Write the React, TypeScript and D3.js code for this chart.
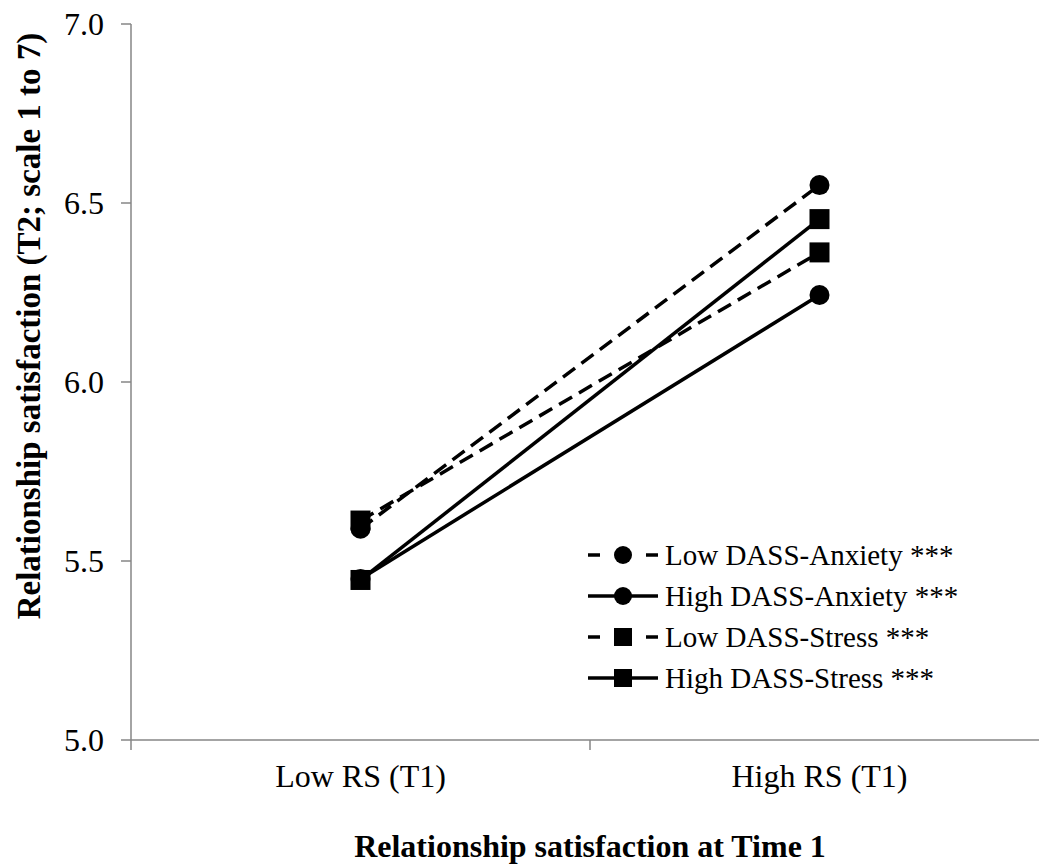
import React from "react";
import * as d3 from "d3";

// categories on the x axis
const categories = ["Low RS (T1)", "High RS (T1)"];

// series values (T2 relationship satisfaction)
const lowAnxiety = [5.59, 6.55];
const highAnxiety = [5.45, 6.243];
const lowStress = [5.613, 6.362];
const highStress = [5.447, 6.455];

const seriesNames = [
  "Low DASS-Anxiety ***",
  "High DASS-Anxiety ***",
  "Low DASS-Stress ***",
  "High DASS-Stress ***",
];

const yTicks = [5.0, 5.5, 6.0, 6.5, 7.0];

const W = 1039;
const H = 867;
const FONT = '"Liberation Serif", "Times New Roman", Times, "DejaVu Serif", serif';

const series = [
  { name: seriesNames[0], values: lowAnxiety, dashed: true, marker: "circle" },
  { name: seriesNames[1], values: highAnxiety, dashed: false, marker: "circle" },
  { name: seriesNames[2], values: lowStress, dashed: true, marker: "square" },
  { name: seriesNames[3], values: highStress, dashed: false, marker: "square" },
];

const Marker = ({ type, x, y, size }: { type: string; x: number; y: number; size: number }) =>
  type === "circle" ? (
    <circle cx={x} cy={y} r={size / 2} fill="#000" />
  ) : (
    <rect x={x - size / 2} y={y - size / 2} width={size} height={size} fill="#000" />
  );

export default function App() {
  const left = 131;
  const right = 1049;
  const xScale = d3.scaleBand().domain(categories).range([left, right]);
  const yScale = d3.scaleLinear().domain([5, 7]).range([740, 24]);
  const xc = (c: string) => (xScale(c) ?? 0) + xScale.bandwidth() / 2;

  const line = d3
    .line<number>()
    .x((_, i) => xc(categories[i]))
    .y((d) => yScale(d));

  const axisColor = "#868686";
  const legendX = 588;
  const legendY = 555;
  const legendStep = 41;
  const txt = { fontFamily: FONT, fill: "#000" };

  return (
    <svg
      width={W}
      height={H}
      style={{ position: "absolute", left: 0, top: 0, background: "#fff", fontFamily: FONT }}
    >
      {/* y axis */}
      <line x1={left} x2={left} y1={yScale(7)} y2={yScale(5)} stroke={axisColor} strokeWidth={1.5} />
      {yTicks.map((t) => (
        <g key={t}>
          <line x1={left - 10} x2={left} y1={yScale(t)} y2={yScale(t)} stroke={axisColor} strokeWidth={1.5} />
          <text x={104} y={yScale(t)} dy="0.35em" textAnchor="end" fontSize={32} style={txt}>
            {t.toFixed(1)}
          </text>
        </g>
      ))}

      {/* x axis */}
      <line x1={left} x2={W} y1={yScale(5)} y2={yScale(5)} stroke={axisColor} strokeWidth={1.5} />
      {[left, ...categories.map((c) => (xScale(c) ?? 0) + xScale.bandwidth())].map((x, i) => (
        <line key={i} x1={x} x2={x} y1={yScale(5)} y2={yScale(5) + 10} stroke={axisColor} strokeWidth={1.5} />
      ))}
      {categories.map((c) => (
        <text key={c} x={xc(c)} y={787} textAnchor="middle" fontSize={32} style={txt}>
          {c}
        </text>
      ))}

      {/* axis titles */}
      <text x={590} y={857} textAnchor="middle" fontSize={32} fontWeight="bold" style={txt}>
        Relationship satisfaction at Time 1
      </text>
      <text
        transform={`translate(40, 326) rotate(-90)`}
        textAnchor="middle"
        fontSize={33}
        fontWeight="bold"
        style={txt}
      >
        Relationship satisfaction (T2; scale 1 to 7)
      </text>

      {/* series */}
      {series.map((s) => (
        <g key={s.name}>
          <path
            d={line(s.values) ?? ""}
            fill="none"
            stroke="#000"
            strokeWidth={3.5}
            strokeDasharray={s.dashed ? "15,8" : undefined}
          />
          {s.values.map((v, i) => (
            <Marker key={i} type={s.marker} x={xc(categories[i])} y={yScale(v)} size={20} />
          ))}
        </g>
      ))}

      {/* legend */}
      {series.map((s, i) => {
        const y = legendY + i * legendStep;
        return (
          <g key={s.name}>
            <line
              x1={legendX}
              x2={legendX + 70}
              y1={y}
              y2={y}
              stroke="#000"
              strokeWidth={3.5}
              strokeDasharray={s.dashed ? "12,17" : undefined}
            />
            <Marker type={s.marker} x={legendX + 35} y={y} size={18} />
            <text x={665} y={y} dy="0.35em" fontSize={29} style={txt}>
              {s.name}
            </text>
          </g>
        );
      })}
    </svg>
  );
}
